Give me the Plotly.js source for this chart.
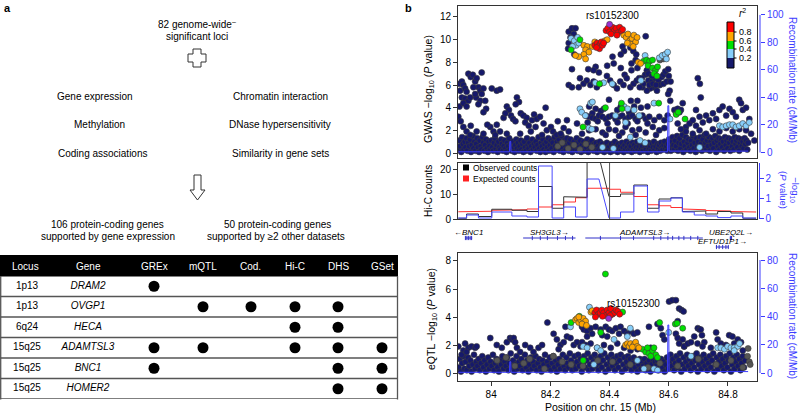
<!DOCTYPE html>
<html><head><meta charset="utf-8">
<script src="https://cdn.plot.ly/plotly-3.0.1.min.js"></script>
<style>html,body{margin:0;padding:0;background:#fff}#chart{width:800px;height:416px}</style>
</head><body><div id="chart"></div>
<script>
// ================= DATA =================
// Panel a: table
const loci = ['1p13','1p13','6q24','15q25','15q25','15q25'];
const genes = ['DRAM2','OVGP1','HECA','ADAMTSL3','BNC1','HOMER2'];
const datasets = ['GREx','mQTL','Cod.','Hi-C','DHS','GSet'];
const support = [
  [1,0,0,0,0,0],
  [0,1,1,1,1,0],
  [0,0,0,1,1,0],
  [1,1,0,1,1,1],
  [1,0,0,0,1,1],
  [0,0,0,0,1,1]
];
// Panel b: lead SNP
const leadSNP = 'rs10152300';
const leadPos = 84.40;
const gwasLead = [[84.400,11.35]];
const eqtlLead = [[84.397,3.9]];
// Recombination rate (cM/Mb)
const recombPos  = [83.889,84.062,84.063,84.066,84.067,84.596,84.597,84.600,84.601,84.868];
const recombRate = [0.5,0.5,8,8,0.5,0.5,34,34,1,1];
// GWAS -log10 P, by r2 class
const gwasBand = [[83.890,0.3],[83.893,1.1],[83.896,0.6],[83.899,0.1],[83.902,1.4],[83.905,0.8],[83.908,0.3],[83.911,1.0],[83.914,0.5],[83.917,1.3],[83.920,0.2],[83.923,0.9],[83.926,0.6],[83.929,1.2],[83.932,0.1],[83.935,0.7],[83.938,1.5],[83.941,0.4],[83.944,1.0],[83.947,0.2],[83.950,0.8],[83.953,1.3],[83.956,0.5],[83.959,0.1],[83.962,1.1],[83.965,0.6],[83.968,0.3],[83.971,1.4],[83.974,0.9],[83.977,0.2],[83.980,0.7],[83.983,1.2],[83.986,0.4],[83.989,0.1],[83.992,1.0],[83.995,0.6],[83.998,0.3],
[84.001,1.1],[84.004,0.5],[84.007,0.2],[84.010,0.9],[84.013,1.3],[84.016,0.4],[84.019,0.7],[84.022,0.1],[84.025,1.0],[84.028,0.5],[84.031,0.3],[84.034,1.2],[84.037,0.8],[84.040,0.2],[84.043,0.6],[84.046,1.1],[84.049,0.4],[84.052,0.1],[84.055,0.9],[84.058,0.6],[84.061,1.3],[84.064,0.3],[84.067,0.8],[84.070,0.2],[84.073,1.0],[84.076,0.5],[84.079,0.1],[84.082,0.7],[84.085,1.2],[84.088,0.4],[84.091,0.9],[84.094,0.2],[84.097,0.6],[84.100,1.1],[84.103,0.3],[84.106,0.8],[84.109,0.1],[84.112,1.0],[84.115,0.5],[84.118,0.2],[84.121,1.3],[84.124,0.7],[84.127,0.4],[84.130,0.9],[84.133,0.1],[84.136,0.6],[84.139,1.2],[84.142,0.3],[84.145,0.8],[84.148,0.5],[84.151,1.0],[84.154,0.2],[84.157,0.7],[84.160,1.4],[84.163,0.4],[84.166,0.1],[84.169,0.9],[84.172,0.6],[84.175,1.2],[84.178,0.3],[84.181,0.8],[84.184,0.1],[84.187,1.0],[84.190,0.5],[84.193,1.3],[84.196,0.2],[84.199,0.7],
[84.202,1.1],[84.205,0.4],[84.208,0.9],[84.211,0.1],[84.214,1.4],[84.217,0.6],[84.220,0.3],[84.223,1.0],[84.226,0.5],[84.229,1.2],[84.232,0.2],[84.235,0.8],[84.238,1.5],[84.241,0.4],[84.244,0.1],[84.247,1.1],[84.250,0.7],[84.253,0.3],[84.256,1.3],[84.259,0.6],[84.262,0.2],[84.265,0.9],[84.268,1.2],[84.271,0.4],[84.274,0.1],[84.277,0.8],[84.280,1.0],[84.283,0.3],[84.286,0.6],[84.289,1.3],[84.292,0.2],[84.295,0.9],[84.298,0.5],[84.301,1.1],[84.304,0.1],[84.307,0.7],[84.310,0.4],[84.313,1.0],[84.316,0.2],[84.319,0.8],[84.322,0.5],[84.325,1.2],[84.328,0.1],[84.331,0.6],[84.334,0.9],[84.337,0.3],[84.340,1.1],[84.343,0.5],[84.346,0.2],[84.349,0.8],
[84.352,0.4],[84.355,0.9],[84.358,0.1],[84.361,0.6],[84.364,0.3],[84.367,1.0],[84.370,0.5],[84.373,0.2],[84.376,0.8],[84.379,0.4],[84.382,0.1],[84.385,0.7],[84.388,0.3],[84.391,0.9],[84.394,0.5],[84.397,0.2],[84.400,0.6],[84.403,0.1],[84.406,0.8],[84.409,0.4],[84.412,0.2],[84.415,0.7],[84.418,1.0],[84.421,0.3],[84.424,0.5],[84.427,0.1],[84.430,0.8],[84.433,0.4],[84.436,0.6],[84.439,0.2],[84.442,0.9],[84.445,0.5],[84.448,0.1],[84.451,0.7],[84.454,0.3],[84.457,1.0],[84.460,0.5],[84.463,0.2],[84.466,0.8],[84.469,0.4],[84.472,0.6],[84.475,0.1],[84.478,0.9],[84.481,0.3],[84.484,0.7],[84.487,0.2],[84.490,0.5],[84.493,1.0],[84.496,0.3],[84.499,0.6],[84.502,0.1],[84.505,0.8],[84.508,0.4],[84.511,0.6],[84.514,0.2],[84.517,0.9],[84.520,0.5],[84.523,0.3],[84.526,0.7],[84.529,0.1],[84.532,0.9],[84.535,0.4],[84.538,0.6],[84.541,0.2],[84.544,0.8],[84.547,0.5],[84.550,1.0],[84.553,0.3],[84.556,0.6],[84.559,0.1],[84.562,0.8],[84.565,0.4],[84.568,0.7],[84.571,0.2],[84.574,0.9],[84.577,0.5],[84.580,0.3],[84.583,0.7],[84.586,1.0],[84.589,0.4],[84.592,0.6],[84.595,0.2],[84.598,0.8],
[84.601,1.2],[84.604,0.5],[84.607,0.2],[84.610,1.0],[84.613,1.4],[84.616,0.7],[84.619,0.3],[84.622,1.1],[84.625,0.6],[84.628,1.5],[84.631,0.2],[84.634,0.9],[84.637,1.3],[84.640,0.4],[84.643,0.8],[84.646,1.6],[84.649,0.1],[84.652,1.0],[84.655,0.6],[84.658,1.4],[84.661,0.3],[84.664,0.9],[84.667,1.2],[84.670,0.5],[84.673,0.2],[84.676,1.1],[84.679,0.7],[84.682,1.5],[84.685,0.4],[84.688,0.9],[84.691,0.1],[84.694,1.3],[84.697,0.6],[84.700,1.0],[84.703,0.3],[84.706,1.4],[84.709,0.8],[84.712,0.2],[84.715,1.2],[84.718,0.5],[84.721,1.6],[84.724,0.9],[84.727,0.3],[84.730,1.1],[84.733,0.6],[84.736,1.4],[84.739,0.2],[84.742,1.0],[84.745,0.7],[84.748,1.3],[84.751,0.4],[84.754,0.9],[84.757,1.5],[84.760,0.1],[84.763,1.1],[84.766,0.6],[84.769,1.3],[84.772,0.3],[84.775,0.8],[84.778,1.2],[84.781,0.5],[84.784,1.0],[84.787,0.2],[84.790,1.4],[84.793,0.7],[84.796,1.1],[84.799,0.4],[84.802,1.3],[84.805,0.9],[84.808,0.2],[84.811,1.2],[84.814,0.6],[84.817,1.0],[84.820,0.3],[84.823,1.4],[84.826,0.8],[84.829,1.1],[84.832,0.5],[84.835,1.3],[84.838,0.2],[84.841,0.9],[84.844,1.2],[84.847,0.6],[84.850,1.0],[84.853,0.4],[84.856,1.3],[84.859,0.8],[84.862,1.1],[84.865,0.3],[84.868,0.9]];
const gwasNavy = [[83.893,6.1],[83.901,6.3],[83.906,6.0],[83.895,5.5],[83.912,5.7],[83.917,5.4],[83.901,4.9],[83.912,4.8],[83.923,4.6],[83.893,4.1],[83.906,4.4],[83.917,4.1],[83.929,4.9],[83.923,7.0],[83.931,6.7],[83.938,6.9],[83.946,6.3],[83.951,6.6],[83.957,5.8],[83.940,5.8],[83.963,5.5],[83.968,5.2],[83.974,5.7],[83.949,4.9],[83.963,4.6],[83.957,4.3],[83.946,5.2],[83.968,7.1],[83.980,4.6],[83.983,3.9],[83.974,3.6],[83.889,3.2],[83.897,2.8],[83.906,2.3],[83.917,1.9],[83.931,2.4],[84.002,5.7],[84.019,5.5],[84.030,5.6],[83.997,2.3],[84.008,1.9],[84.019,2.5],[84.014,1.6],[83.987,2.5],[84.030,1.9],[84.053,4.1],[84.060,3.8],[84.067,3.3],[84.074,3.0],[84.042,3.1],[84.048,3.5],[84.082,2.8],[84.087,4.9],[84.094,4.5],[84.083,4.3],[84.100,3.5],[84.109,3.3],[84.120,3.1],[84.115,2.7],[84.127,2.4],[84.134,1.9],[84.138,2.9],[84.145,3.4],[84.154,3.0],[84.165,3.2],[84.150,2.3],[84.177,2.6],[84.188,2.0],[84.184,4.0],[84.202,2.3],[84.209,1.9],[84.221,1.6],[84.235,1.7],[84.225,2.8],[84.256,2.9],[84.262,1.9],[84.245,2.2],[84.172,1.6],[84.098,1.7],[84.053,1.7],[83.974,1.7],[83.951,1.9],[83.929,1.6],
[84.262,10.7],[84.273,11.0],[84.285,11.0],[84.279,10.5],[84.268,10.2],[84.262,9.7],[84.260,9.2],[84.281,8.7],[84.522,10.3],[84.444,9.4],[84.449,9.0],[84.438,8.7],[84.470,9.3],[84.480,9.0],[84.490,8.7],[84.410,8.5],[84.414,7.9],[84.392,7.7],[84.488,8.2],[84.474,7.9],[84.474,7.3],[84.451,6.9],[84.438,7.5],[84.494,7.5],[84.353,7.6],[84.364,7.1],[84.346,7.3],[84.328,7.4],[84.300,6.6],[84.312,6.1],[84.323,6.4],[84.335,6.0],[84.346,6.3],[84.357,5.8],[84.368,6.1],[84.402,6.4],[84.414,6.0],[84.425,5.7],[84.436,6.3],[84.447,6.0],[84.458,6.6],[84.470,5.8],[84.481,6.1],[84.492,6.4],[84.500,6.6],[84.511,5.8],[84.262,6.0],[84.273,5.8],[84.296,5.8],[84.273,7.4],[84.391,6.8],
[84.526,7.3],[84.520,6.9],[84.509,6.6],[84.531,6.4],[84.543,6.3],[84.554,6.6],[84.565,6.4],[84.576,6.7],[84.582,6.9],[84.588,7.2],[84.570,6.0],[84.582,6.1],[84.593,6.3],[84.548,5.8],[84.560,5.5],[84.537,5.7],[84.526,5.5],[84.514,6.1],[84.502,5.8],[84.534,6.0],[84.546,6.1],[84.557,6.0],[84.603,5.5],[84.598,5.2],[84.605,4.6],[84.531,7.0],[84.543,6.8],[84.600,6.8],[84.606,6.3],[84.598,7.4],
[84.331,4.1],[84.353,3.9],[84.370,3.7],[84.381,3.9],[84.398,4.7],[84.426,3.8],[84.438,4.1],[84.466,3.6],[84.483,4.1],[84.506,4.0],[84.528,4.1],[84.494,4.6],[84.342,3.5],[84.472,4.6],
[84.320,3.3],[84.331,3.2],[84.342,3.1],[84.353,3.0],[84.364,3.3],[84.376,3.2],[84.387,3.0],[84.398,3.2],[84.409,3.3],[84.420,3.0],[84.432,3.2],[84.443,3.3],[84.454,3.0],[84.466,3.2],[84.477,3.3],[84.488,3.0],[84.500,3.2],[84.511,3.3],[84.522,3.0],[84.534,3.2],[84.326,2.7],[84.360,2.8],[84.393,2.6],[84.427,2.7],[84.461,2.6],[84.494,2.8],[84.528,2.6],[84.551,2.9],[84.568,3.2],[84.585,2.9],[84.596,3.3],
[84.331,2.0],[84.353,2.1],[84.376,1.8],[84.398,2.1],[84.420,2.0],[84.443,1.8],[84.454,2.3],[84.477,2.0],[84.500,2.1],[84.522,1.8],[84.546,2.3],[84.568,2.0],[84.585,2.2],[84.307,1.7],[84.290,2.6],[84.387,1.6],[84.488,1.6],[84.557,1.6],[84.432,1.5],
[84.619,3.8],[84.630,3.9],[84.641,3.8],[84.625,3.5],[84.636,3.6],[84.647,4.4],[84.698,6.6],[84.705,6.1],[84.708,4.9],[84.658,2.3],[84.670,2.6],[84.681,2.9],[84.692,2.4],[84.704,3.2],[84.715,2.7],[84.726,3.3],[84.737,2.9],[84.749,3.5],[84.760,3.0],[84.771,3.8],[84.782,4.1],[84.794,3.3],[84.805,3.9],[84.816,3.6],[84.827,3.2],[84.838,4.7],[84.844,4.4],[84.850,3.8],[84.861,4.0],[84.872,3.0],[84.658,1.9],[84.681,1.7],[84.704,2.0],[84.726,1.7],[84.749,2.1],[84.771,1.9],[84.794,2.2],[84.816,1.9],[84.838,2.1],[84.861,2.0],[84.878,1.7],[84.889,1.1],[84.630,2.6],[84.641,2.1],[84.692,3.8]];
const gwasGrey = [[84.225,0.6],[84.240,0.9],[84.260,0.4],[84.280,0.7],[84.300,0.3],[84.320,0.8],[84.340,0.5],[84.570,8.2],[84.575,8.4],[84.580,8.6],[84.585,8.5],[84.590,8.7],[84.583,8.3],[84.588,8.4]];
const gwasLightBlue = [[84.270,10.1],[84.281,9.9],[84.292,10.2],[84.287,9.5],[84.275,9.4],[84.296,9.7],[84.520,8.6],[84.568,8.4],[84.578,8.6],[84.588,8.7],[84.596,8.9],[84.592,8.3],[84.352,6.2],[84.380,6.2],[84.409,6.1],[84.506,6.4],[84.300,3.9],[84.306,3.6],[84.318,3.3],[84.336,4.4],[84.342,4.5],[84.420,3.3],[84.454,2.7],[84.470,1.4],[84.449,4.1],[84.461,3.9],[84.483,3.8],[84.500,3.3],[84.330,2.2],[84.340,2.1],[84.550,4.4],[84.604,3.0],[84.771,2.4],[84.782,2.3],[84.794,2.4],[84.805,2.5],[84.816,2.5],[84.827,2.3],[84.838,2.4],[84.850,2.6],[84.861,2.4],[84.872,2.7],[84.376,0.5],[84.413,0.4],[84.503,1.1],[84.520,0.9],[84.704,0.5]];
const gwasGreen = [[84.270,9.1],[84.300,10.0],[84.515,8.1],[84.525,8.2],[84.535,8.1],[84.545,8.2],[84.530,7.7],[84.545,7.5],[84.555,7.3],[84.550,7.0],[84.560,6.8],[84.562,7.6],[84.366,6.1],[84.386,4.0],[84.440,4.4],[84.442,3.9],[84.310,2.3],[84.566,4.4],[84.625,3.4],[84.632,3.6],[84.655,3.0]];
const gwasOrange = [[84.313,9.5],[84.325,9.4],[84.319,9.1],[84.330,8.9],[84.313,8.7],[84.296,8.5],[84.319,8.3],[84.285,8.6],[84.350,9.8],[84.360,9.6],[84.342,9.4],[84.384,9.9],[84.392,10.0],[84.448,10.4],[84.456,10.2],[84.462,10.5],[84.468,9.9],[84.476,10.1],[84.482,10.4],[84.472,9.6],[84.488,9.8],[84.493,10.2],[84.460,9.7],[84.480,9.4],[84.497,8.0],[84.505,7.9]];
const gwasRed = [[84.350,9.5],[84.358,9.7],[84.362,9.4],[84.368,9.6],[84.372,9.8],[84.366,9.2],[84.376,9.5],[84.356,9.3],[84.380,9.7],[84.388,10.8],[84.394,11.0],[84.400,10.7],[84.410,11.1],[84.416,10.8],[84.422,11.0],[84.428,10.6],[84.434,11.1],[84.440,10.8],[84.405,10.5],[84.425,10.4],[84.444,10.9]];
// eQTL -log10 P, by r2 class
const eqtlBand = [[83.890,0.4],[83.894,1.0],[83.898,0.1],[83.902,0.7],[83.906,1.2],[83.910,0.3],[83.914,0.8],[83.918,0.2],[83.922,1.1],[83.926,0.5],[83.930,0.9],[83.934,0.1],[83.938,0.6],[83.942,1.3],[83.946,0.3],[83.950,0.8],[83.954,0.5],[83.958,1.0],[83.962,0.2],[83.966,0.7],[83.970,1.2],[83.974,0.4],[83.978,0.9],[83.982,0.1],[83.986,0.6],[83.990,1.1],[83.994,0.3],[83.998,0.8],
[84.002,0.5],[84.006,1.3],[84.010,0.2],[84.014,0.7],[84.018,1.0],[84.022,0.4],[84.026,0.1],[84.030,0.9],[84.034,0.6],[84.038,1.2],[84.042,0.3],[84.046,0.8],[84.050,0.5],[84.054,1.1],[84.058,0.2],[84.062,0.7],[84.066,1.4],[84.070,0.4],[84.074,0.9],[84.078,0.1],[84.082,0.6],[84.086,1.2],[84.090,0.3],[84.094,0.8],[84.098,0.5],[84.102,1.0],[84.106,0.2],[84.110,0.7],[84.114,1.3],[84.118,0.4],[84.122,0.9],[84.126,0.1],[84.130,0.6],[84.134,1.1],[84.138,0.3],[84.142,0.8],[84.146,0.5],[84.150,1.2],[84.154,0.2],[84.158,0.7],[84.162,1.0],[84.166,0.4],[84.170,0.1],[84.174,0.9],[84.178,0.6],[84.182,1.3],[84.186,0.3],[84.190,0.8],[84.194,0.5],[84.198,1.1],
[84.202,0.2],[84.206,0.7],[84.210,1.2],[84.214,0.4],[84.218,0.9],[84.222,0.1],[84.226,0.6],[84.230,1.0],[84.234,0.3],[84.238,0.8],[84.242,1.3],[84.246,0.5],[84.250,0.2],[84.254,1.1],[84.258,0.7],[84.262,0.4],[84.266,1.4],[84.270,0.9],[84.274,0.2],[84.278,0.6],[84.282,1.2],[84.286,0.3],[84.290,0.8],[84.294,1.3],[84.298,0.5],[84.302,1.0],[84.306,0.1],[84.310,0.7],[84.314,1.2],[84.318,0.4],[84.322,0.9],[84.326,1.4],[84.330,0.2],[84.334,0.6],[84.338,1.1],[84.342,0.3],[84.346,0.8],[84.350,1.3],[84.354,0.5],[84.358,1.0],[84.362,0.2],[84.366,0.7],[84.370,1.2],[84.374,0.4],[84.378,0.9],[84.382,1.4],[84.386,0.1],[84.390,0.6],[84.394,1.1],[84.398,0.3],[84.402,0.8],[84.406,1.3],[84.410,0.5],[84.414,1.0],[84.418,0.2],[84.422,0.7],[84.426,1.2],[84.430,0.4],[84.434,0.9],[84.438,1.3],[84.442,0.1],[84.446,0.6],[84.450,1.1],[84.454,0.3],[84.458,0.8],[84.462,1.2],[84.466,0.5],[84.470,1.0],[84.474,0.2],[84.478,0.7],[84.482,1.1],[84.486,0.4],[84.490,0.9],[84.494,0.1],[84.498,0.6],
[84.502,1.0],[84.506,0.3],[84.510,0.8],[84.514,0.5],[84.518,1.0],[84.522,0.2],[84.526,0.7],[84.530,0.4],[84.534,0.9],[84.538,0.1],[84.542,0.6],[84.546,1.0],[84.550,0.3],[84.554,0.8],[84.558,0.5],[84.562,0.9],[84.566,0.2],[84.570,0.6],[84.574,1.0],[84.578,0.4],[84.582,0.8],[84.586,0.1],[84.590,0.6],[84.594,1.1],[84.598,0.3],
[84.602,0.8],[84.606,1.3],[84.610,0.5],[84.614,1.0],[84.618,0.2],[84.622,0.7],[84.626,1.2],[84.630,0.4],[84.634,0.9],[84.638,1.4],[84.642,0.1],[84.646,0.6],[84.650,1.1],[84.654,0.3],[84.658,0.8],[84.662,1.3],[84.666,0.5],[84.670,1.0],[84.674,0.2],[84.678,0.7],[84.682,1.2],[84.686,0.4],[84.690,0.9],[84.694,1.4],[84.698,0.1],[84.702,0.6],[84.706,1.1],[84.710,0.3],[84.714,0.8],[84.718,1.3],[84.722,0.5],[84.726,1.0],[84.730,0.2],[84.734,0.7],[84.738,1.2],[84.742,0.4],[84.746,0.9],[84.750,1.4],[84.754,0.1],[84.758,0.6],[84.762,1.1],[84.766,0.3],[84.770,0.8],[84.774,1.3],[84.778,0.5],[84.782,1.0],[84.786,0.2],[84.790,0.7],[84.794,1.2],[84.798,0.4],[84.802,0.9],[84.806,1.4],[84.810,0.1],[84.814,0.6],[84.818,1.1],[84.822,0.3],[84.826,0.8],[84.830,1.3],[84.834,0.5],[84.838,1.0],[84.842,0.2],[84.846,0.7],[84.850,1.2],[84.854,0.4],[84.858,0.9]];
const eqtlNavy = [[83.889,1.9],[83.912,2.1],[83.923,1.8],[83.934,1.9],[83.946,1.8],[83.951,1.9],[83.906,1.6],[83.900,1.3],[83.917,1.5],[83.997,2.5],[84.019,2.0],[84.036,1.8],[84.053,2.2],[84.064,2.5],[84.070,2.4],[84.076,2.5],[84.081,2.2],[84.087,1.8],[84.098,1.5],[84.115,2.0],[84.132,1.8],[84.143,1.5],[84.160,1.8],[84.172,2.0],
[84.190,3.6],[84.211,2.8],[84.222,2.4],[84.234,2.0],[84.228,1.7],[84.245,2.2],[84.256,2.6],[84.251,3.3],[84.268,2.5],[84.279,2.0],[84.290,2.2],[84.302,1.9],
[84.307,3.3],[84.313,3.1],[84.324,3.0],[84.336,3.2],[84.341,2.8],[84.353,3.3],[84.370,3.1],[84.375,2.7],[84.387,3.3],[84.398,3.1],[84.409,3.0],[84.421,3.2],[84.432,2.8],[84.437,3.3],[84.449,3.0],[84.460,2.8],[84.471,3.0],[84.482,2.8],[84.494,2.9],[84.324,2.6],[84.392,2.6],
[84.307,2.2],[84.319,2.0],[84.336,2.1],[84.358,1.8],[84.381,2.0],[84.404,1.8],[84.426,2.1],[84.449,1.8],[84.471,1.6],[84.494,1.7],
[84.533,3.3],[84.562,3.5],[84.573,3.2],[84.579,2.7],[84.585,2.4],[84.601,5.1],[84.612,5.2],[84.624,5.2],[84.635,4.6],[84.643,4.5],[84.650,4.4],[84.630,3.7],[84.624,2.8],[84.630,2.5],[84.635,2.1],[84.647,2.4],[84.652,1.9],[84.664,2.1],[84.698,3.2],[84.704,3.1],[84.708,3.1],[84.712,2.7],[84.686,2.6],[84.675,2.2],[84.697,2.1],[84.720,2.2],[84.760,2.9],[84.765,2.4],[84.776,2.1],[84.793,2.0],[84.804,2.7],[84.815,2.6],[84.833,2.4],[84.821,2.1],[84.844,2.2],[84.714,1.9],[84.742,1.8],[84.850,1.6],[84.539,1.8]];
const eqtlGrey = [[84.020,0.9],[84.080,0.5],[84.130,1.0],[84.180,0.3],[84.240,0.8],[84.310,0.5],[84.360,0.9],[84.470,0.6],[84.530,0.4],[84.570,0.7],[84.630,0.5],[84.700,1.0],[84.760,0.6],[84.810,0.9],[84.850,0.4],[84.868,1.75],[84.866,1.2],[84.872,0.8],[84.875,0.6],[84.652,1.9],[84.050,1.1],[84.110,0.7],[84.210,1.2],[84.270,0.6],[84.410,0.8]];
const eqtlLightBlue = [[84.332,4.7],[84.268,3.3],[84.311,1.9],[84.358,1.8],[84.324,1.8],[84.370,1.6],[84.415,2.4],[84.460,2.6],[84.494,0.9],[84.347,0.6],[84.516,0.3],[84.600,2.9],[84.550,0.3],[84.562,0.2],[84.675,1.2],[84.765,1.8],[84.776,1.8],[84.788,1.7],[84.799,1.9],[84.810,1.8],[84.821,1.8],[84.833,1.9],[84.839,2.1],[84.821,1.6],[84.470,3.2]];
const eqtlGreen = [[84.386,7.07],[84.270,3.6],[84.298,4.05],[84.444,4.35],[84.370,2.9],[84.311,0.9],[84.569,3.6],[84.622,3.5],[84.628,3.55],[84.647,3.2],[84.511,1.7],[84.522,1.5],[84.533,1.4],[84.545,1.6],[84.550,1.8],[84.556,1.3],[84.528,1.8],[84.539,1.2],[84.562,1.1]];
const eqtlOrange = [[84.337,4.35],[84.341,4.45],[84.285,3.8],[84.290,3.9],[84.296,3.6],[84.302,3.8],[84.311,3.9],[84.319,3.7],[84.307,3.5],[84.296,4.0],[84.322,3.4],[84.454,2.0],[84.460,2.1],[84.466,1.9],[84.471,2.1],[84.482,2.0],[84.488,2.2],[84.494,1.9],[84.499,1.8],[84.477,1.85]];
const eqtlRed = [[84.350,4.3],[84.356,4.5],[84.362,4.2],[84.368,4.3],[84.374,4.5],[84.380,4.3],[84.386,4.1],[84.392,4.5],[84.398,4.3],[84.404,4.6],[84.410,4.2],[84.416,4.3],[84.352,4.0],[84.376,4.05],[84.402,4.1],[84.422,4.5],[84.428,4.4],[84.434,4.2]];
// Hi-C bins (Mb edges) and values
const hicEdges = [83.889,83.917,83.957,84.002,84.070,84.121,84.160,84.206,84.245,84.285,84.324,84.364,84.398,84.437,84.482,84.528,84.567,84.607,84.646,84.686,84.725,84.765,84.810,84.850,84.895];
const hicObserved = [0.3,2.0,1.0,3.9,3.5,3.0,13.0,4.3,8.9,8.7,25,null,9.0,10.0,13.6,4.3,8.0,8.5,3.0,3.2,2.0,3.0,2.4,0.3];
const hicExpected = [2.9,2.9,3.1,3.5,3.7,4.0,4.8,5.7,6.8,8.5,12.3,12.3,11.9,10.7,9.0,5.7,5.3,4.6,4.0,3.7,3.4,3.2,3.0,2.8];
const hicLogP = [0,0.15,0,0.3,0.1,0.05,2.6,0,0.55,0.05,1.95,null,0,0.3,1.6,0.3,0.85,1.0,0.3,0.15,0.1,0.02,0.1,0];
// Genes
const geneName = ['BNC1','SH3GL3','ADAMTSL3','UBE2Q2L','EFTUD1P1'];
const geneStart = [83.912,84.108,84.318,84.806,84.759];
const geneEnd = [83.936,84.285,84.715,84.814,84.803];
const geneStrand = ['-','+','+','+','+'];
const geneRow = [0,0,0,0,1];
const geneExons = [[83.913,83.918,83.923,83.929,83.934],[84.139,84.166,84.190,84.224,84.251,84.275],[84.369,84.437,84.481,84.549,84.573,84.597,84.613,84.634,84.651,84.674,84.698],[84.808,84.812],[84.761,84.770,84.782,84.793,84.801]];
// r2 legend
const r2Colors = ['#ff0000','#ffa500','#00e000','#87cefa','#16196b'];
const r2Labels = ['0.8','0.6','0.4','0.2'];

// ================= BUILD =================
const W=800,H=416;
const PX=x=>x/W, PY=y=>1-y/H;
const FONT='Liberation Sans, Arial, Helvetica, sans-serif';
const BLUE='#3c3cff';
const NAVY='#16196b', LBLUE='#87cefa', GREEN='#00e000', ORANGE='#ffa500', RED='#ff0000', PURPLE='#9b30d0', GREY='#555555';
const OUTL='#3a3a3a';
const XR=[83.888,84.898];
const XD=[PX(458),PX(757)];

function sc(arr,color,xa,ya,size,lw){
  return {type:'scatter',mode:'markers',x:arr.map(p=>p[0]),y:arr.map(p=>p[1]),xaxis:xa,yaxis:ya,
    marker:{size:size||6,color:color,line:{color:OUTL,width:lw===undefined?0.6:lw}},hoverinfo:'skip',showlegend:false};
}
function stepXY(edges,vals){const xs=[],ys=[];vals.forEach((v,i)=>{if(v===null)return;xs.push(edges[i],edges[i+1]);ys.push(v,v);});return [xs,ys];}

const traces=[];
// GWAS
[[gwasBand,NAVY],[gwasGrey,GREY],[gwasNavy,NAVY],[gwasLightBlue,LBLUE],[gwasGreen,GREEN],[gwasOrange,ORANGE],[gwasRed,RED],[gwasLead,PURPLE]]
  .forEach(([a,c])=>traces.push(sc(a,c,'x','y')));
traces.push({type:'scatter',mode:'lines',x:recombPos,y:recombRate,xaxis:'x',yaxis:'y2',line:{color:BLUE,width:1},hoverinfo:'skip',showlegend:false});
// Hi-C
let s=stepXY(hicEdges,hicExpected);
traces.push({type:'scatter',mode:'lines',x:s[0],y:s[1],xaxis:'x2',yaxis:'y3',line:{color:'#ff3030',width:1},hoverinfo:'skip',showlegend:false});
s=stepXY(hicEdges,hicObserved);
traces.push({type:'scatter',mode:'lines',x:s[0],y:s[1],xaxis:'x2',yaxis:'y3',line:{color:'#333333',width:1},hoverinfo:'skip',showlegend:false});
s=stepXY(hicEdges,hicLogP);
traces.push({type:'scatter',mode:'lines',x:s[0],y:s[1],xaxis:'x2',yaxis:'y4',line:{color:'#4848ff',width:1},hoverinfo:'skip',showlegend:false});
// Genes
geneName.forEach((g,i)=>{
  traces.push({type:'scatter',mode:'lines',x:[geneStart[i],geneEnd[i]],y:[geneRow[i],geneRow[i]],xaxis:'x2',yaxis:'y5',line:{color:'#3030c8',width:1},hoverinfo:'skip',showlegend:false});
  traces.push({type:'scatter',mode:'markers',x:geneExons[i],y:geneExons[i].map(()=>geneRow[i]),xaxis:'x2',yaxis:'y5',marker:{symbol:'line-ns',size:3,line:{color:'#3030c8',width:1}},hoverinfo:'skip',showlegend:false});
});
// eQTL
[[eqtlBand,NAVY],[eqtlGrey,GREY],[eqtlNavy,NAVY],[eqtlLightBlue,LBLUE],[eqtlGreen,GREEN],[eqtlOrange,ORANGE],[eqtlRed,RED],[eqtlLead,PURPLE]]
  .forEach(([a,c])=>traces.push(sc(a,c,'x3','y6')));
traces.push({type:'scatter',mode:'lines',x:recombPos,y:recombRate,xaxis:'x3',yaxis:'y7',line:{color:BLUE,width:1},hoverinfo:'skip',showlegend:false});
// Table
const colX=[154,203,251,295,338,382];
const dx=[],dy=[];
support.forEach((row,i)=>row.forEach((v,j)=>{if(v){dx.push(colX[j]);dy.push(i);}}));
traces.push({type:'scatter',mode:'markers',x:dx,y:dy,xaxis:'x4',yaxis:'y8',marker:{size:11,color:'#000'},hoverinfo:'skip',showlegend:false});
traces.push({type:'scatter',mode:'text',x:loci.map(()=>27),y:loci.map((_,i)=>i),text:loci,textfont:{size:10,family:FONT,color:'#000'},xaxis:'x4',yaxis:'y8',hoverinfo:'skip',showlegend:false,cliponaxis:false});
traces.push({type:'scatter',mode:'text',x:genes.map(()=>88),y:genes.map((_,i)=>i),text:genes,textfont:{size:10,family:FONT,color:'#000',style:'italic'},xaxis:'x4',yaxis:'y8',hoverinfo:'skip',showlegend:false,cliponaxis:false});

// ----- axes -----
const ax={showline:true,linecolor:'#333',linewidth:1,mirror:true,ticks:'outside',ticklen:4,tickwidth:1,tickcolor:'#333',
  tickfont:{size:10,color:'#000',family:FONT},zeroline:false,showgrid:false,fixedrange:true};
const bax={showline:false,ticks:'outside',ticklen:4,tickwidth:1,tickcolor:BLUE,tickfont:{size:10,color:BLUE,family:FONT},
  zeroline:false,showgrid:false,fixedrange:true,side:'right',anchor:'free'};

const shapes=[];
const ann=[];
function A(text,x,y,o){ann.push(Object.assign({text:text,x:PX(x),y:PY(y),xref:'paper',yref:'paper',showarrow:false,font:{size:10,family:FONT,color:'#000'},xanchor:'center',yanchor:'middle'},o||{}));}

// blue right axis lines spanning tick range
shapes.push({type:'line',xref:'paper',yref:'y2',x0:PX(760),x1:PX(760),y0:0,y1:100,line:{color:BLUE,width:1}});
shapes.push({type:'line',xref:'paper',yref:'y7',x0:PX(760),x1:PX(760),y0:0,y1:80,line:{color:BLUE,width:1}});
// lead SNP line in Hi-C panel
shapes.push({type:'line',xref:'x2',yref:'paper',x0:leadPos,x1:leadPos,y0:PY(219),y1:PY(163),line:{color:'#555',width:1}});
// Hi-C legend squares
shapes.push({type:'rect',xref:'paper',yref:'paper',x0:PX(463),x1:PX(469),y0:PY(170.5),y1:PY(164.5),fillcolor:'#000',line:{width:0}});
shapes.push({type:'rect',xref:'paper',yref:'paper',x0:PX(463),x1:PX(469),y0:PY(181.5),y1:PY(175.5),fillcolor:'#ff2020',line:{width:0}});
A('Observed counts',471,167.5,{xanchor:'left',font:{size:8.5,family:FONT}});
A('Expected counts',471,178.5,{xanchor:'left',font:{size:8.5,family:FONT}});
// r2 legend
const r2Edges=[22,32,41,49,58,68];
r2Colors.forEach((c,i)=>shapes.push({type:'rect',xref:'paper',yref:'paper',x0:PX(727),x1:PX(734),y0:PY(r2Edges[i+1]),y1:PY(r2Edges[i]),fillcolor:c,line:{width:0}}));
shapes.push({type:'rect',xref:'paper',yref:'paper',x0:PX(727),x1:PX(734),y0:PY(68),y1:PY(22),line:{color:'#000',width:1}});
r2Labels.forEach((l,i)=>{
  shapes.push({type:'line',xref:'paper',yref:'paper',x0:PX(734),x1:PX(736.5),y0:PY(r2Edges[i+1]),y1:PY(r2Edges[i+1]),line:{color:'#000',width:1}});
  A(l,737,r2Edges[i+1],{xanchor:'left',font:{size:9,family:FONT}});
});
A('<i>r</i><sup>2</sup>',737,13,{xanchor:'left',font:{size:10,family:FONT}});
// lead SNP labels
ann.push({text:leadSNP,x:84.41,y:12.1,xref:'x',yref:'y',showarrow:false,font:{size:10,family:FONT},xanchor:'center',yanchor:'middle'});
ann.push({text:leadSNP,x:84.481,y:5.0,xref:'x3',yref:'y6',showarrow:false,font:{size:10,family:FONT},xanchor:'center',yanchor:'middle'});
// gene labels
geneName.forEach((g,i)=>{
  const t = geneStrand[i]==='-' ? '\u2190<i>'+g+'</i>' : '<i>'+g+'</i>\u2192';
  ann.push({text:t,x:(geneStart[i]+geneEnd[i])/2,y:geneRow[i],xref:'x2',yref:'y5',yshift:6,showarrow:false,font:{size:8,family:FONT},xanchor:'center',yanchor:'middle'});
});
// axis titles
A('GWAS \u2212log<sub>10</sub> (<i>P</i> value)',429,89,{textangle:-90,font:{size:10.5,family:FONT}});
A('Recombination rate (cM/Mb)',793,80,{textangle:90,font:{size:10,family:FONT,color:BLUE}});
A('Hi-C counts',428,191,{textangle:-90,font:{size:10,family:FONT}});
A('\u2212log<sub>10</sub><br>(<i>P</i> value)',789,190,{textangle:90,font:{size:9.5,family:FONT,color:BLUE}});
A('eQTL \u2212log<sub>10</sub> (<i>P</i> value)',432,319,{textangle:-90,font:{size:10.5,family:FONT}});
A('Recombination rate (cM/Mb)',793,316,{textangle:90,font:{size:10,family:FONT,color:BLUE}});
A('Position on chr. 15 (Mb)',600,407,{font:{size:10.5,family:FONT}});
// panel letters
A('<b>a</b>',2,8,{xanchor:'left',font:{size:11,family:FONT}});
A('<b>b</b>',403,8,{xanchor:'left',font:{size:11,family:FONT}});
// flowchart
A('82 genome-wide<sup>\u2013</sup>',197,24);
A('significant loci',197,36);
A('Gene expression',95,97); A('Chromatin interaction',280,97);
A('Methylation',99,125); A('DNase hypersensitivity',280,125);
A('Coding associations',103,153); A('Similarity in gene sets',280,153);
A('106 protein-coding genes',107,224); A('supported by gene expression',108,236);
A('50 protein-coding genes',277,224); A('supported by \u22652 other datasets',276,236);
function pathPx(pts){return 'M'+pts.map(p=>PX(p[0])+','+PY(p[1])).join(' L')+' Z';}
shapes.push({type:'path',xref:'paper',yref:'paper',path:pathPx([[193,49],[201,49],[201,54],[206,54],[206,62],[201,62],[201,67],[193,67],[193,62],[188,62],[188,54],[193,54]]),fillcolor:'#fff',line:{color:'#333',width:1}});
shapes.push({type:'path',xref:'paper',yref:'paper',path:pathPx([[194,175],[201,175],[201,190],[205,190],[197.5,200],[190,190],[194,190]]),fillcolor:'#fff',line:{color:'#333',width:1}});
// table header
shapes.push({type:'rect',xref:'paper',yref:'paper',x0:0,x1:PX(398),y0:PY(276),y1:PY(255),fillcolor:'#000',line:{width:0}});
const hdr=['Locus','Gene'].concat(datasets);
const hdrX=[25,88].concat(colX);
hdr.forEach((h,i)=>A(h,hdrX[i],266,{font:{size:10,family:FONT,color:'#fff'}}));
for(let k=0;k<=genes.length;k++){
  shapes.push({type:'line',xref:'paper',yref:'y8',x0:0,x1:PX(398),y0:k-0.5,y1:k-0.5,line:{color:'#555',width:1.3}});
}
shapes.push({type:'line',xref:'paper',yref:'paper',x0:PX(0.7),x1:PX(0.7),y0:PY(399.5),y1:PY(276),line:{color:'#555',width:1.3}});
shapes.push({type:'line',xref:'paper',yref:'paper',x0:PX(397.5),x1:PX(397.5),y0:PY(399.5),y1:PY(276),line:{color:'#555',width:1.3}});

const layout={
  width:W,height:H,margin:{l:0,r:0,t:0,b:0},paper_bgcolor:'#fff',plot_bgcolor:'rgba(0,0,0,0)',
  font:{family:FONT,size:10,color:'#000'},showlegend:false,
  xaxis:Object.assign({},ax,{domain:XD,range:XR,anchor:'y',showticklabels:false,ticks:''}),
  yaxis:Object.assign({},ax,{domain:[PY(158),PY(6)],range:[-0.44,12.97],tickvals:[0,2,4,6,8,10,12],anchor:'x'}),
  yaxis2:Object.assign({},bax,{overlaying:'y',position:PX(760),range:[-4,106.5],tickvals:[0,20,40,60,80,100]}),
  xaxis2:Object.assign({},ax,{domain:XD,range:XR,anchor:'y3',showticklabels:false,ticks:''}),
  yaxis3:Object.assign({},ax,{domain:[PY(219),PY(163)],range:[0,22.4],tickvals:[0,10,20],anchor:'x2'}),
  yaxis4:Object.assign({},bax,{overlaying:'y3',position:PX(758.5),range:[-0.05,2.75],tickvals:[0,1,2],showline:true,linecolor:BLUE,linewidth:1}),
  yaxis5:{domain:[PY(256),PY(229)],range:[2,-1],visible:false,anchor:'x2',fixedrange:true},
  xaxis3:Object.assign({},ax,{domain:XD,range:XR,anchor:'y6',tickvals:[84,84.2,84.4,84.6,84.8]}),
  yaxis6:Object.assign({},ax,{domain:[PY(381),PY(253)],range:[-0.571,8.571],tickvals:[0,2,4,6,8],anchor:'x3'}),
  yaxis7:Object.assign({},bax,{overlaying:'y6',position:PX(760),range:[-5.66,84.96],tickvals:[0,20,40,60,80]}),
  xaxis4:{domain:[0,0.5],range:[0,400],visible:false,anchor:'y8',fixedrange:true},
  yaxis8:{domain:[PY(399),PY(276)],range:[5.5,-0.5],visible:false,anchor:'x4',fixedrange:true},
  shapes:shapes,annotations:ann
};
Plotly.newPlot('chart',traces,layout,{displayModeBar:false,staticPlot:true});
</script></body></html>
